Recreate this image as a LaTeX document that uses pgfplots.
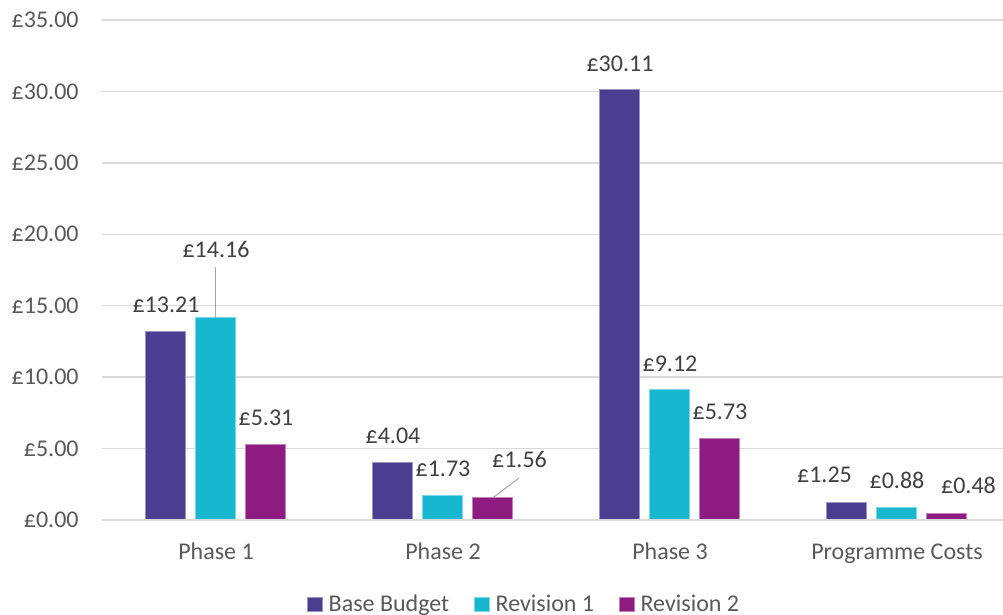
\documentclass[12pt,border=0pt]{standalone}
\usepackage{pgfplots}
\pgfplotsset{compat=1.18}
\usepackage{pgfplotstable}
\usepackage{fontspec}
\setmainfont{Carlito}
\definecolor{cbase}{HTML}{4B3D8F}
\definecolor{crev1}{HTML}{17B8CF}
\definecolor{crev2}{HTML}{8E1C80}
\definecolor{gridc}{HTML}{D9D9D9}
\definecolor{tickc}{HTML}{595959}
\definecolor{labc}{HTML}{404040}
\definecolor{leadc}{HTML}{A6A6A6}
\pgfplotstableread{
x y dx dy
0 13.21 0 0
1 4.04 0 0
2 30.11 0 0
3 1.25 -11.25 0.5
}\base
\pgfplotstableread{
x y dx dy
0 14.16 0 21.1
1 1.73 0 0
2 9.12 0 0
3 0.88 0 0
}\revone
\pgfplotstableread{
x y dx dy
0 5.31 0 0
1 1.56 13.25 6.1
2 5.73 0 0
3 0.48 10.75 0.5
}\revtwo
\pgfplotsset{lblshift/.style={
  visualization depends on={\thisrow{dx} \as \lblx},
  visualization depends on={\thisrow{dy} \as \lbly},
  nodes near coords style={xshift=\lblx pt, yshift=9.25pt+\lbly pt}}}
\begin{document}
\begin{tikzpicture}
\useasboundingbox (-51.25pt,-47.5pt) rectangle (450.25pt,260pt);
\begin{axis}[
  at={(0,0)}, anchor=south west,
  scale only axis, width=450.25pt, height=250pt,
  clip=false,
  ybar=5pt, bar width=20pt,
  xmin=-0.5, xmax=3.467,
  ymin=0, ymax=35,
  xtick={0,1,2,3},
  xticklabels={Phase 1,Phase 2,Phase 3,Programme Costs},
  ytick={0,5,...,35},
  major tick length=0pt,
  axis line style={draw=none},
  ymajorgrids, grid style={gridc, line width=0.75pt},
  /pgf/number format/assume math mode=true,
  yticklabel={£\pgfmathprintnumber[fixed,fixed zerofill,precision=2]{\tick}},
  yticklabel style={anchor=east, inner sep=0pt, xshift=-11.75pt, text=tickc},
  xticklabel style={anchor=base, inner sep=0pt, yshift=-20pt, text=tickc},
  nodes near coords={£\pgfmathprintnumber[fixed,fixed zerofill,precision=2]{\pgfplotspointmeta}},
  nodes near coords style={anchor=base, inner sep=0pt, text=labc},
  legend columns=3,
  legend style={draw=none, fill=none, at={(0.2270,-42.5pt)}, anchor=west, inner sep=0pt,
    /tikz/every even column/.append style={column sep=9.5pt},
    nodes={inner xsep=3pt, inner ysep=0pt, text=tickc}},
  legend image code/.code={\fill[#1] (0pt,-3.5pt) rectangle (7.2pt,3.7pt);},
]
\addplot[fill=cbase, draw=cbase!55!white, line width=0.5pt, lblshift] table[x=x,y=y] {\base};
\addplot[fill=crev1, draw=crev1!55!white, line width=0.5pt, lblshift] table[x=x,y=y] {\revone};
\addplot[fill=crev2, draw=crev2!55!white, line width=0.5pt, lblshift] table[x=x,y=y] {\revtwo};
\draw[leadc, line width=0.5pt] (axis cs:0,14.16) -- (axis cs:0,17.71);
\draw[leadc, line width=0.5pt] ([xshift=25pt]axis cs:1,1.56) -- ([xshift=38pt]axis cs:1,2.94);
\draw[gridc, line width=0.75pt] (axis cs:-0.5,0) -- (axis cs:3.467,0);
\legend{Base Budget,Revision 1,Revision 2}
\end{axis}
\end{tikzpicture}
\end{document}
